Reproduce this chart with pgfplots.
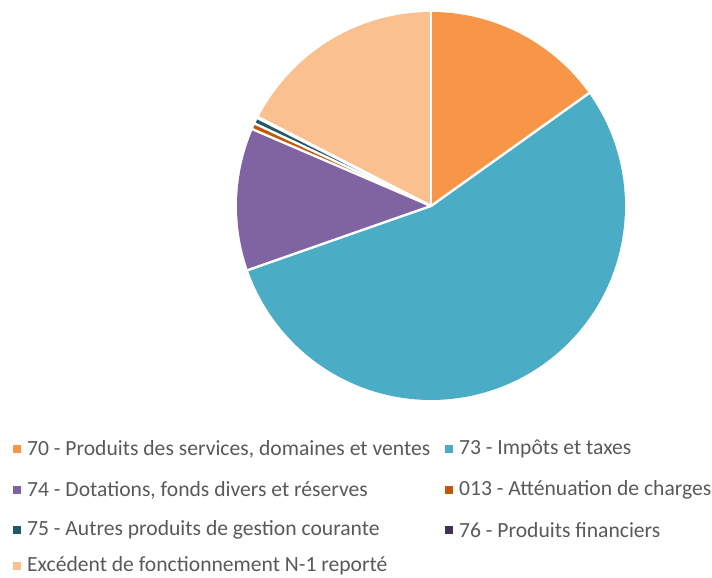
\documentclass[border=0pt]{standalone}
\usepackage{pgfplots}
\usepackage{pgfplotstable}
\pgfplotsset{compat=1.18}
\usepackage{fontspec}
\setmainfont{Carlito}
\definecolor{c70}{HTML}{F79646}
\definecolor{c73}{HTML}{4BACC6}
\definecolor{c74}{HTML}{8064A2}
\definecolor{c013}{HTML}{C0570B}
\definecolor{c75}{HTML}{215968}
\definecolor{c76}{HTML}{403152}
\definecolor{cN1}{HTML}{FAC090}
\definecolor{txt}{HTML}{595959}

\pgfplotstableread[col sep=comma]{
code,value
70,15.1
73,54.4
74,11.8
013,0.5
75,0.5
76,0.1
N1,17.4
}\piedata

% cumulative angles
\pgfplotstablegetrowsof{\piedata}
\pgfmathtruncatemacro{\nrows}{\pgfplotsretval-1}
\gdef\total{0}
\foreach \i in {0,...,\nrows}{%
  \pgfplotstablegetelem{\i}{value}\of\piedata
  \pgfmathparse{\total+\pgfplotsretval}\xdef\total{\pgfmathresult}%
}
\gdef\cum{0}
\foreach \i in {0,...,\nrows}{%
  \pgfplotstablegetelem{\i}{value}\of\piedata
  \pgfmathparse{90-360*(\cum/\total)}\expandafter\xdef\csname angA\i\endcsname{\pgfmathresult}%
  \pgfmathparse{\cum+\pgfplotsretval}\xdef\cum{\pgfmathresult}%
  \pgfmathparse{90-360*(\cum/\total)}\expandafter\xdef\csname angB\i\endcsname{\pgfmathresult}%
}

\begin{document}
\begin{tikzpicture}
\begin{axis}[
  x=1pt, y=1pt,
  xmin=0, xmax=712, ymin=0, ymax=578,
  hide axis, clip=false,
  anchor=origin, at={(0,0)},
  scale only axis,
]
\pgfplotsinvokeforeach{0,...,6}{%
  \pgfplotstablegetelem{#1}{code}\of\piedata
  \edef\slicecol{c\pgfplotsretval}%
  \edef\temp{\noexpand\fill[\slicecol] (axis cs:431,372) -- ++(\csname angA#1\endcsname:194pt)
     arc[start angle=\csname angA#1\endcsname, end angle=\csname angB#1\endcsname, radius=194pt] -- cycle;}%
  \temp
}
\pgfplotsinvokeforeach{0,...,6}{%
  \edef\temp{\noexpand\draw[white, line width=2.4pt, line cap=round] (axis cs:431,372) -- ++(\csname angA#1\endcsname:195pt);}%
  \temp
}
% legend
\def\leg#1#2#3#4{%
  \fill[#3] (axis cs:{#1-15.3},{#2-3.6}) rectangle (axis cs:{#1-7.3},{#2+3.6});
  \node[anchor=west, inner sep=0pt, text=txt, font=\fontsize{21.6}{23}\selectfont] at (axis cs:#1-1,#2) {#4};
}
\leg{28}{129}{c70}{70 - Produits des services, domaines et ventes}
\leg{460}{129}{c73}{73 - Impôts et taxes}
\leg{28}{88}{c74}{74 - Dotations, fonds divers et réserves}
\leg{460}{88}{c013}{013 - Atténuation de charges}
\leg{28}{48}{c75}{75 - Autres produits de gestion courante}
\leg{460}{48}{c76}{76 - Produits financiers}
\leg{28}{12}{cN1}{Excédent de fonctionnement N-1 reporté}
\end{axis}
\pgfresetboundingbox
\useasboundingbox (0,0) rectangle (712pt,578pt);
\end{tikzpicture}
\end{document}
